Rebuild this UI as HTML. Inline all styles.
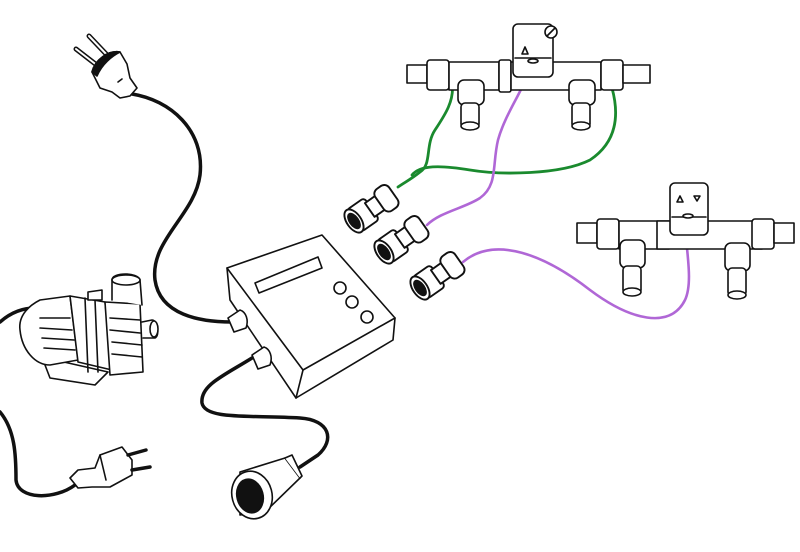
<!DOCTYPE html>
<html><head><style>body{margin:0;background:#fff}svg{display:block}</style></head><body>
<svg width="800" height="552" viewBox="0 0 800 552" xmlns="http://www.w3.org/2000/svg" fill="none" stroke="#111" stroke-width="1.6" stroke-linejoin="round" stroke-linecap="round">
<!-- cables -->
<path d="M132 94 C170 100 205 130 200 175 C195 215 150 240 155 280 C160 315 200 322 232 322" stroke-width="3.5"/>
<path d="M252 358 C225 375 200 385 202 403 C205 420 250 415 300 418 C330 420 335 440 318 455 L300 467" stroke-width="3.5"/>
<path d="M35 308 C20 308 8 315 0 322" stroke-width="3.5"/>
<path d="M0 412 C15 430 16 455 16 480 C18 500 55 500 75 485" stroke-width="3.5"/>
<!-- green wires -->
<g stroke="#1a8a2e" stroke-width="2.8">
<path d="M452 82 C455 100 445 115 435 130 C425 145 432 165 420 172 C410 180 405 182 398 187"/>
<path d="M612 88 C618 110 620 140 590 160 C560 175 500 175 470 170 C440 165 420 165 412 175"/>
</g>
<g stroke="#b067d6" stroke-width="2.6">
<path d="M527 76 C520 95 505 115 498 140 C492 165 498 185 480 198 C465 208 440 212 427 225"/>
<path d="M463 262 C495 235 545 255 590 290 C630 320 670 330 685 300 C692 285 688 260 686 238"/>
</g>
<!-- top-left plug -->
<g fill="#fff">
<path d="M76 49 L98 66 M89 36 L108 56" stroke-width="5"/>
<path d="M76 49 L98 66 M89 36 L108 56" stroke="#fff" stroke-width="2"/>
<path d="M92 72 C95 60 108 50 120 52 L127 64 L130 78 L137 88 L130 96 L120 98 L112 92 L100 88 Z"/>
<path d="M92 72 C95 60 108 50 120 52 C112 56 102 64 97 76 Z" fill="#111"/>
<path d="M118 82 L122 79"/>
</g>
<!-- box -->
<g fill="#fff">
<path d="M227 268 L322 235 L395 318 L393 340 L296 398 L230 300 Z"/>
<path d="M227 268 L303 370 L395 318"/>
<path d="M303 370 L296 398"/>
<path d="M255 283 L318 257 L322 268 L259 293 Z"/>
<circle cx="340" cy="288" r="6"/><circle cx="352" cy="302" r="6"/><circle cx="367" cy="317" r="6"/>
<path d="M228 318 L240 310 C246 312 249 320 246 328 L234 332 Z"/>
<path d="M252 355 L264 347 C270 349 273 357 270 365 L258 369 Z"/>
</g>
<!-- socket -->
<g fill="#fff">
<path d="M240 472 L285 458 L300 478 L265 512 L240 515 Z"/>
<path d="M285 458 L292 455 L302 476 L300 478"/>
<ellipse cx="252" cy="495" rx="20" ry="24" transform="rotate(-15 252 495)"/>
<ellipse cx="250" cy="496" rx="13" ry="17" fill="#111" transform="rotate(-15 250 496)"/>
</g>
<!-- bottom plug -->
<g fill="#fff">
<path d="M70 478 L78 470 L95 468 L100 455 L122 447 L132 460 L132 475 L110 487 L92 487 L78 488 Z"/>
<path d="M128 455 L146 450 M132 470 L150 467" stroke-width="3.5"/>
<path d="M100 455 L106 480"/>
</g>
<!-- pump -->
<g fill="#fff">
<path d="M45 365 L50 378 L95 385 L108 372 L55 360 Z"/>
<path d="M20 330 C18 315 30 305 40 300 L70 296 L78 360 L50 365 C35 365 22 350 20 330 Z"/>
<path d="M70 296 L105 302 L112 370 L78 362 Z"/>
<path d="M40 318 L70 318 M40 328 L72 330 M42 338 L74 340 M44 348 L75 350"/>
<path d="M85 298 L88 372 M95 300 L98 372"/>
<path d="M105 302 L140 304 L143 372 L110 375 Z"/>
<path d="M110 318 L140 320 M110 330 L140 333 M112 342 L142 345 M112 354 L142 357"/>
<path d="M88 292 L88 300 L102 300 L102 290 Z"/>
<path d="M112 300 L112 280 C112 272 138 272 140 280 L142 305"/>
<ellipse cx="126" cy="280" rx="14" ry="5"/>
<path d="M142 322 L152 320 C158 320 160 336 155 338 L143 338"/>
<ellipse cx="154" cy="329" rx="4" ry="8"/>
</g>
<!-- valve 1 -->
<g fill="#fff">
<rect x="407" y="65" width="20" height="18"/>
<rect x="427" y="60" width="22" height="30" rx="3"/>
<rect x="449" y="62" width="50" height="28"/>
<rect x="499" y="60" width="12" height="32" rx="2"/>
<rect x="511" y="62" width="90" height="28"/>
<rect x="601" y="60" width="22" height="30" rx="3"/>
<rect x="623" y="65" width="27" height="18"/>
<rect x="513" y="24" width="40" height="53" rx="5"/>
<path d="M515 58 L551 58"/>
<circle cx="551" cy="32" r="6"/><path d="M547 36 L555 28"/>
<path d="M522 54 L525 47 L528 54 Z"/>
<ellipse cx="533" cy="61" rx="5" ry="2"/>
<rect x="458" y="80" width="26" height="25" rx="6"/>
<rect x="461" y="103" width="18" height="25" rx="4"/>
<ellipse cx="470" cy="126" rx="9" ry="4"/>
<rect x="569" y="80" width="26" height="25" rx="6"/>
<rect x="572" y="103" width="18" height="25" rx="4"/>
<ellipse cx="581" cy="126" rx="9" ry="4"/>
</g>
<!-- valve 2 -->
<g fill="#fff">
<rect x="577" y="223" width="20" height="20"/>
<rect x="597" y="219" width="22" height="30" rx="3"/>
<rect x="619" y="221" width="50" height="28"/>
<rect x="657" y="221" width="105" height="28"/>
<rect x="752" y="219" width="22" height="30" rx="3"/>
<rect x="774" y="223" width="20" height="20"/>
<rect x="670" y="183" width="38" height="52" rx="5"/>
<path d="M672 217 L706 217"/>
<path d="M677 202 L680 196 L683 202 Z M694 196 L700 196 L697 201 Z"/>
<ellipse cx="688" cy="216" rx="5" ry="2"/>
<rect x="620" y="240" width="25" height="28" rx="6"/>
<rect x="623" y="266" width="18" height="28" rx="4"/>
<ellipse cx="632" cy="292" rx="9" ry="4"/>
<rect x="725" y="243" width="25" height="28" rx="6"/>
<rect x="728" y="268" width="18" height="28" rx="4"/>
<ellipse cx="737" cy="295" rx="9" ry="4"/>
</g>
<!-- fittings -->
<g fill="#fff">
<g transform="translate(354 221) rotate(-35) scale(1.2)">
<rect x="0" y="-11" width="18" height="22" rx="3"/><rect x="16" y="-7" width="12" height="14"/><rect x="26" y="-11" width="14" height="22" rx="5"/>
<ellipse cx="0" cy="0" rx="6" ry="11"/><ellipse cx="0" cy="0" rx="3.5" ry="7" fill="#111"/>
</g>
<g transform="translate(384 252) rotate(-35) scale(1.2)">
<rect x="0" y="-11" width="18" height="22" rx="3"/><rect x="16" y="-7" width="12" height="14"/><rect x="26" y="-11" width="14" height="22" rx="5"/>
<ellipse cx="0" cy="0" rx="6" ry="11"/><ellipse cx="0" cy="0" rx="3.5" ry="7" fill="#111"/>
</g>
<g transform="translate(420 288) rotate(-35) scale(1.2)">
<rect x="0" y="-11" width="18" height="22" rx="3"/><rect x="16" y="-7" width="12" height="14"/><rect x="26" y="-11" width="14" height="22" rx="5"/>
<ellipse cx="0" cy="0" rx="6" ry="11"/><ellipse cx="0" cy="0" rx="3.5" ry="7" fill="#111"/>
</g>
</g>
</svg>
</body></html>
